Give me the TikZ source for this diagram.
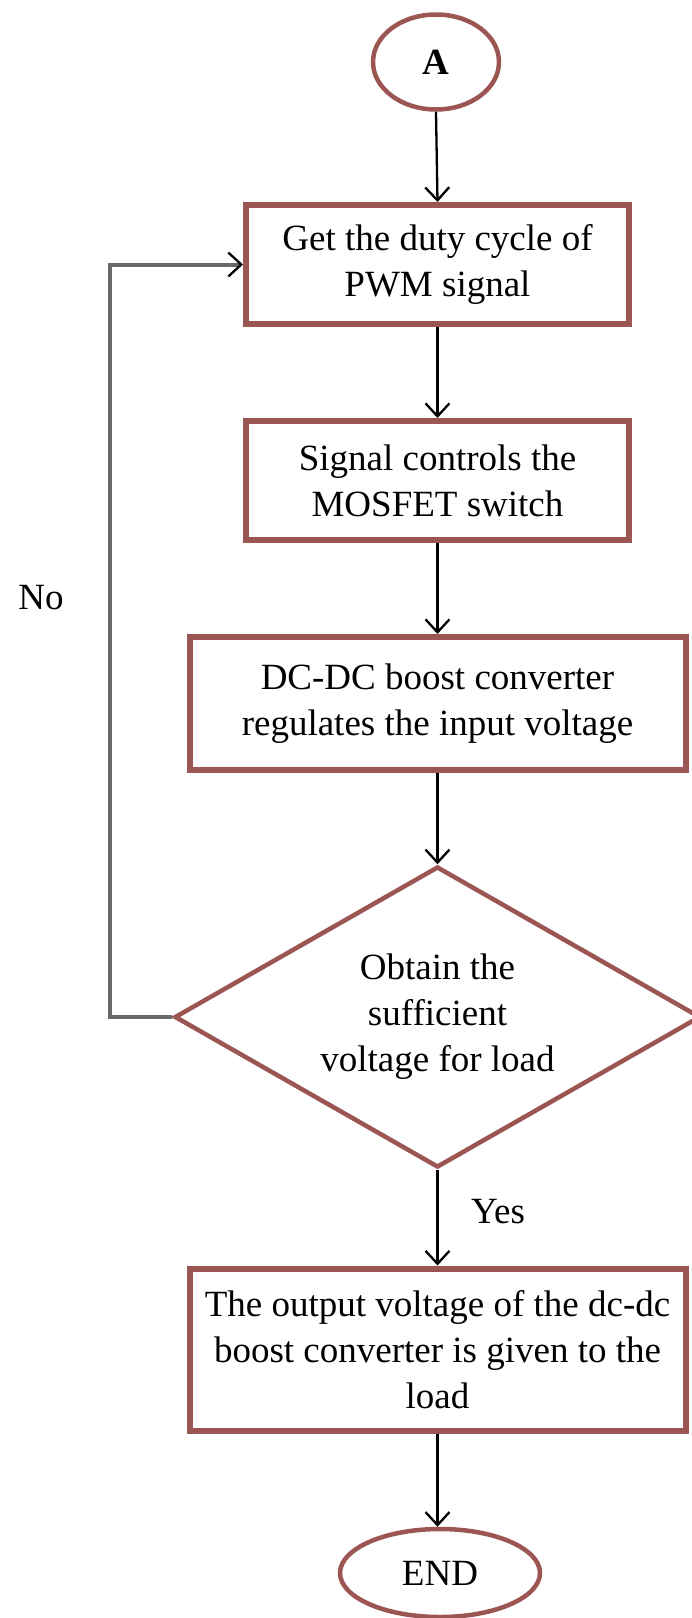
\documentclass[tikz,border=0pt]{standalone}
\usepackage{fontspec}
\setmainfont{Liberation Serif}
\usetikzlibrary{shapes.geometric,arrows.meta}
\definecolor{boxred}{RGB}{155,85,83}
\definecolor{loopgray}{RGB}{105,105,105}
\begin{document}
\begin{tikzpicture}[x=1pt,y=-1pt,
  every node/.style={font=\fontsize{37}{46}\selectfont},
  procbox/.style={draw=boxred,line width=6pt,rectangle,inner sep=0pt,align=center,fill=white},
  termnode/.style={draw=boxred,line width=4.5pt,ellipse,inner sep=0pt,fill=white},
  decnode/.style={draw=boxred,line width=4.5pt,diamond,aspect=1.74,inner sep=0pt,align=center,fill=white},
  flow/.style={draw=black,line width=2.3pt,-{Straight Barb[length=13pt,width=24pt,line width=2.3pt]}},
  loopline/.style={draw=loopgray,line width=4pt,-{Straight Barb[length=13pt,width=24pt,line width=2.3pt,color=black]}},
  lbl/.style={inner sep=0pt}]
\fill[white] (0,0) rectangle (692,1618);
\useasboundingbox (0,0) rectangle (692,1618);
\node[termnode,minimum width=126pt,minimum height=95pt] (A) at (436,62) {\bfseries A};
\node[procbox,minimum width=383pt,minimum height=119pt] (b1) at (437.5,264.5) {Get the duty cycle of\\PWM signal};
\node[procbox,minimum width=383pt,minimum height=119pt] (b2) at (437.5,480.5) {Signal controls the\\MOSFET switch};
\node[procbox,minimum width=496pt,minimum height=133pt] (b3) at (437.5,703.5) {DC-DC boost converter\\regulates the input voltage};
\node[decnode,minimum width=526pt,minimum height=301pt] (dec) at (437.5,1017) {Obtain the\\sufficient\\voltage for load};
\node[procbox,minimum width=496pt,minimum height=162pt] (b4) at (437.5,1349.5) {The output voltage of the dc-dc\\boost converter is given to the\\load};
\node[termnode,minimum width=200pt,minimum height=88pt] (endn) at (440,1573) {END};
\node[lbl] (yes) at (498,1212) {Yes};
\node[lbl] (no) at (41,598) {No};
\coordinate (loopx) at (110,0);
\draw[flow] (A.south) -- (b1.north);
\draw[flow] (b1.south) -- (b2.north);
\draw[flow] (b2.south) -- (b3.north);
\draw[flow] (b3.south) -- (dec.north);
\draw[flow] (dec.south) -- (b4.north);
\draw[flow] (b4.south) -- (b4.south |- endn.north);
\draw[loopline] (dec.west) -- (dec.west -| loopx) |- (b1.west);
\end{tikzpicture}
\end{document}
